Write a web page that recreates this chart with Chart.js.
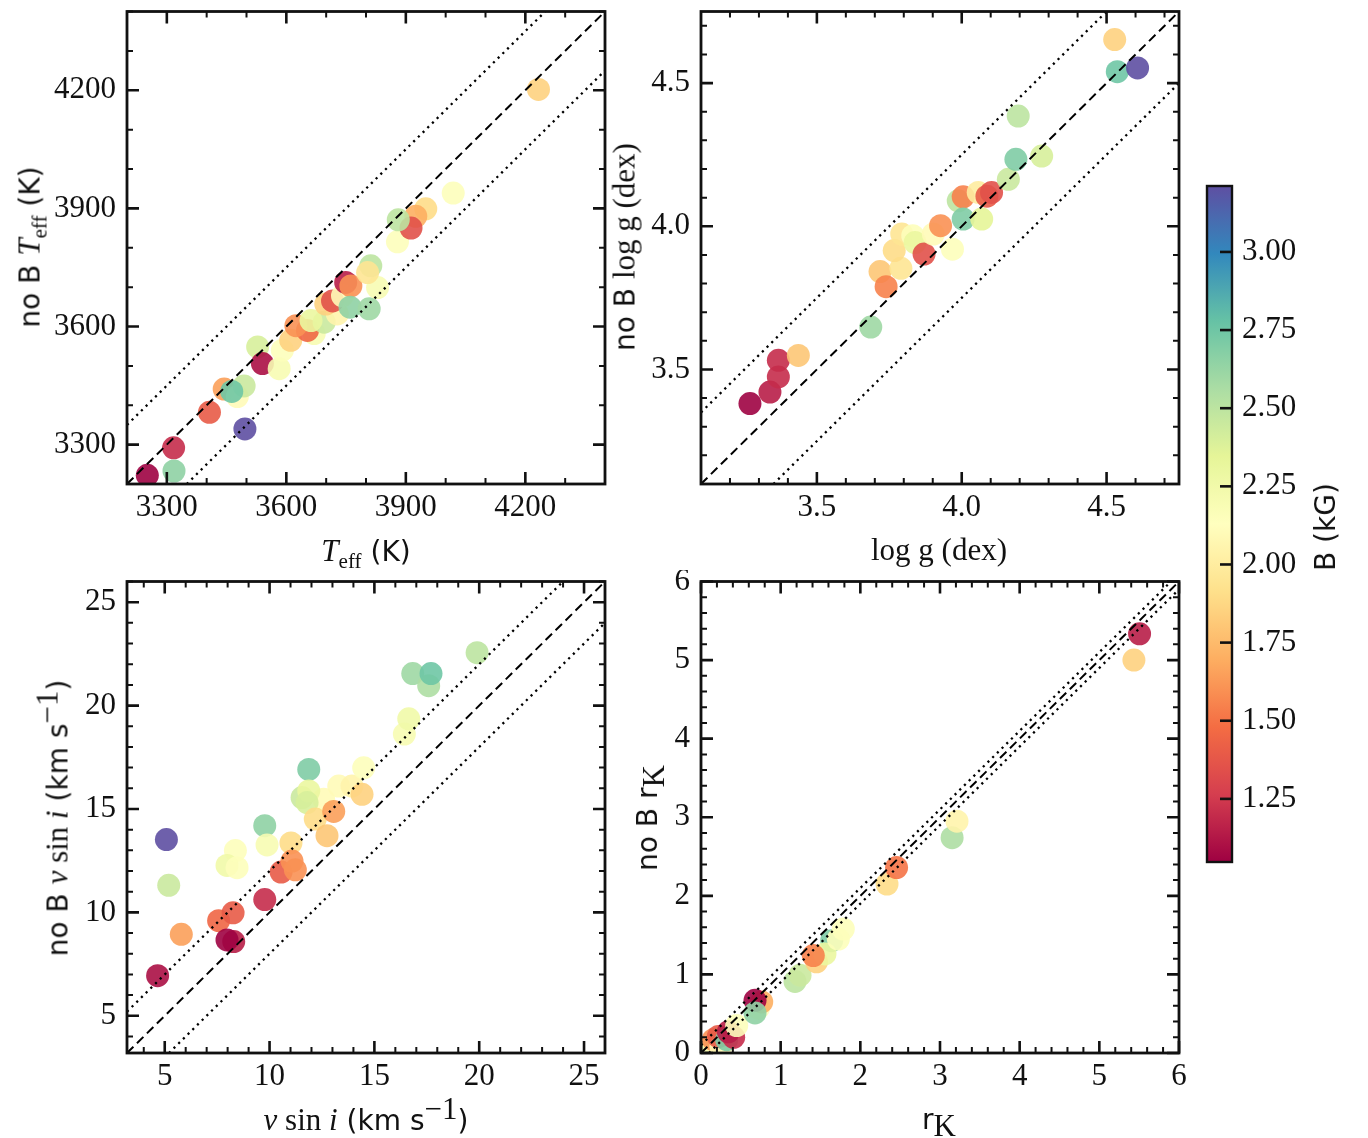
<!DOCTYPE html>
<html>
<head>
<meta charset="utf-8">
<script src="https://cdn.jsdelivr.net/npm/chart.js@4.4.0/dist/chart.umd.min.js"></script>
<style>
html, body { margin:0; padding:0; background:#fff; }
#page { position:relative; width:1368px; height:1138px; overflow:hidden; background:#fff; }
canvas { position:absolute; }
.lbl { position:absolute; white-space:nowrap; font-family:'DejaVu Sans', sans-serif; font-size:28px; color:#111; line-height:1; transform:translate(-50%,-50%); }
.rot { transform:translate(-50%,-50%) rotate(-90deg); }
.s { font-family:'Liberation Serif', serif; font-size:31px; }
sub, sup { font-size:0.68em; line-height:0; }
</style>
</head>
<body>
<div id="page">
  <canvas id="c1"></canvas>
  <canvas id="c2"></canvas>
  <canvas id="c3"></canvas>
  <canvas id="c4"></canvas>
  <canvas id="cb"></canvas>

  <div class="lbl rot" style="left:29px;top:247px">no B <span class="s"><i>T</i><sub>eff</sub></span> (K)</div>
  <div class="lbl" style="left:366px;top:550px"><span class="s"><i>T</i><sub>eff</sub></span> (K)</div>

  <div class="lbl rot" style="left:624px;top:247px">no B <span class="s">log g (dex)</span></div>
  <div class="lbl" style="left:939px;top:549px"><span class="s">log g (dex)</span></div>

  <div class="lbl rot" style="left:57px;top:818px">no B <span class="s"><i>v</i> sin <i>i</i></span> (km s<sup class="s">&minus;1</sup>)</div>
  <div class="lbl" style="left:366px;top:1119px"><span class="s"><i>v</i> sin <i>i</i></span> (km s<sup class="s">&minus;1</sup>)</div>

  <div class="lbl rot" style="left:648px;top:818px">no B r<sub class="s">K</sub></div>
  <div class="lbl" style="left:939px;top:1120px">r<sub class="s">K</sub></div>

  <div class="lbl rot" style="left:1326px;top:527px">B (kG)</div>
</div>

<script>
// ---- data ----
// panel 1: Teff (K)
const p1X = [3251,3317,3318,3407,3496,3444,3477,3494,3463,3528,3540,3582,3590,3611,3670,3653,3624,3695,3662,3728,3699,3716,3741,3749,3762,3760,3808,3829,3812,3804,3879,3950,3925,3913,3881,4019,4233];
const p1Y = [3222,3292,3233,3382,3340,3441,3422,3449,3435,3548,3506,3493,3540,3565,3582,3590,3602,3611,3615,3632,3657,3665,3678,3712,3703,3649,3645,3699,3754,3737,3815,3899,3880,3850,3871,3939,4202];
const p1B = [1.05,1.2,2.65,1.4,3.21,1.65,2.1,2.45,2.75,2.4,1.1,2.2,2.15,1.85,2.2,1.45,1.6,2.45,2.3,2.05,1.85,1.35,2.1,1.15,1.6,2.65,2.6,2.2,2.5,1.95,2.15,1.9,1.7,1.35,2.5,2.15,1.85];
const p1Ticks = [3300,3600,3900,4200];
const p1Lines = [[3200,3200,4400,4400],[3200,3350,4250,4400],[3350,3200,4400,4250]];

// panel 2: log g (dex)
const p2X = [3.269,3.338,3.367,3.367,3.436,3.686,3.718,3.739,3.79,3.767,3.793,3.831,3.839,3.87,3.902,3.927,3.968,3.988,4.005,4.005,4.057,4.069,4.087,4.103,4.161,4.187,4.276,4.195,4.528,4.537,4.607];
const p2Y = [3.381,3.421,3.474,3.532,3.549,3.648,3.842,3.789,3.853,3.915,3.973,3.967,3.943,3.903,3.973,4.002,3.92,4.089,4.103,4.025,4.118,4.025,4.105,4.118,4.164,4.234,4.245,4.385,4.652,4.54,4.553];
const p2B = [1.05,1.15,1.2,1.2,1.8,2.6,1.8,1.55,1.95,1.9,1.95,2.15,2.3,1.35,2.1,1.6,2.15,2.5,1.55,2.7,2.0,2.35,1.4,1.35,2.45,2.7,2.4,2.5,1.85,2.75,3.21];
const p2Ticks = [3.5,4.0,4.5];
const p2Lines = [[3.1,3.1,4.75,4.75],[3.1,3.35,4.5,4.75],[3.35,3.1,4.75,4.5]];

// panel 3: v sin i (km/s)
const p3X = [4.66,5.79,5.19,5.08,7.57,8.26,8.29,7.97,8.37,7.97,8.45,9.77,9.77,9.88,11.02,10.55,11.23,11.07,11.87,12.58,11.55,11.87,11.79,12.18,12.74,13.3,13.93,14.41,13.06,14.49,16.43,16.64,16.83,17.59,17.7,19.9];
const p3Y = [6.94,8.94,11.31,13.52,9.6,9.98,8.59,8.67,12.99,12.27,12.16,10.62,14.19,13.26,13.36,11.95,12.06,12.48,16.91,15.47,15.55,15.87,15.31,14.51,13.71,16.11,16.11,15.71,14.88,16.99,18.62,19.36,21.55,20.96,21.55,22.56];
const p3B = [1.1,1.65,2.45,3.21,1.45,1.4,1.15,1.05,2.15,2.25,2.15,1.2,2.65,2.2,1.9,1.4,1.6,1.6,2.7,2.1,2.45,2.3,2.4,1.9,1.8,2.1,2.05,1.85,1.65,2.15,2.2,2.25,2.6,2.55,2.75,2.5];
const p3Ticks = [5,10,15,20,25];
const p3Lines = [[3.2,3.2,26,26],[3.2,5.2,24,26],[5.2,3.2,26,24]];

// panel 4: r_K
const p4X = [0.06,0.113,0.155,0.25,0.218,0.322,0.41,0.343,0.448,0.72,0.762,0.678,0.678,1.18,1.243,1.45,1.64,1.556,1.41,1.786,1.724,2.335,2.455,3.152,3.213,5.434,5.505];
const p4Y = [0.05,0.08,0.17,0.08,0.21,0.17,0.2,0.27,0.35,0.57,0.65,0.67,0.51,0.91,0.99,1.16,1.43,1.26,1.24,1.578,1.45,2.15,2.36,2.74,2.95,5.0,5.334];
const p4B = [2.15,2.2,1.6,2.1,1.4,2.7,1.2,1.15,2.15,2.15,1.7,1.05,2.65,2.5,2.45,1.85,2.7,2.3,1.55,2.15,2.15,1.9,1.5,2.55,2.05,1.85,1.15];
const p4Ticks = [0,1,2,3,4,5,6];
const p4Lines = [[0,0,6,6],[0,0.1,5.9,6],[0.1,0,6,5.9]];

// colorbar B (kG)
const cbMin = 1.048, cbMax = 3.211;
const cbTicks = [1.25,1.5,1.75,2.0,2.25,2.5,2.75,3.0];

// ---- Spectral colormap ----
const SPECTRAL = [[158,1,66],[213,62,79],[244,109,67],[253,174,97],[254,224,139],[255,255,191],[230,245,152],[171,221,164],[102,194,165],[50,136,189],[94,79,162]];
function spectralAt(t) {
  t = Math.max(0, Math.min(1, t)) * 10;
  const i = Math.min(9, Math.floor(t)), f = t - i;
  const a = SPECTRAL[i], b = SPECTRAL[i + 1];
  return [0,1,2].map(k => Math.round(a[k] + (b[k] - a[k]) * f));
}
function colorFor(v, alpha) {
  const c = spectralAt((v - cbMin) / (cbMax - cbMin));
  return `rgba(${c[0]},${c[1]},${c[2]},${alpha})`;
}

const TICK_FONT = { family: 'Liberation Serif', size: 31 };
const INK = '#111';

// stop chart.js from reserving room for half tick labels at the ends
function noEdgePad(s) {
  s.paddingTop = 0; s.paddingBottom = 0; s.paddingLeft = 0; s.paddingRight = 0;
}

// frame + inward major/minor ticks on all four sides
const frameTicks = {
  id: 'frameTicks',
  afterDatasetsDraw(chart, args, o) {
    const { ctx, chartArea: a } = chart;
    const xs = chart.scales.x, ys = chart.scales.y;
    ctx.save();
    ctx.strokeStyle = INK;
    const minorVals = (s, step, majors) => {
      const out = [];
      const k0 = Math.ceil(s.min / step - 1e-6), k1 = Math.floor(s.max / step + 1e-6);
      for (let k = k0; k <= k1; k++) {
        const v = k * step;
        if (!majors.some(m => Math.abs(m - v) < step * 0.01)) out.push(v);
      }
      return out;
    };
    const drawX = (vals, len, w) => {
      ctx.lineWidth = w;
      vals.forEach(v => {
        const px = xs.getPixelForValue(v);
        ctx.beginPath();
        ctx.moveTo(px, a.bottom); ctx.lineTo(px, a.bottom - len);
        ctx.moveTo(px, a.top); ctx.lineTo(px, a.top + len);
        ctx.stroke();
      });
    };
    const drawY = (vals, len, w) => {
      ctx.lineWidth = w;
      vals.forEach(v => {
        const py = ys.getPixelForValue(v);
        ctx.beginPath();
        ctx.moveTo(a.left, py); ctx.lineTo(a.left + len, py);
        ctx.moveTo(a.right, py); ctx.lineTo(a.right - len, py);
        ctx.stroke();
      });
    };
    drawX(o.majors, 12, 2.6);
    drawY(o.majors, 12, 2.6);
    drawX(minorVals(xs, o.minor, o.majors), 6, 2);
    drawY(minorVals(ys, o.minor, o.majors), 6, 2);
    ctx.lineWidth = 2.8;
    ctx.strokeRect(a.left, a.top, a.right - a.left, a.bottom - a.top);
    ctx.restore();
  }
};

function makePanel(p) {
  const cv = document.getElementById(p.id);
  cv.width = p.w; cv.height = p.h;
  cv.style.left = p.left + 'px'; cv.style.top = p.top + 'px';
  const [aL, aT, aR, aB] = p.area;
  const yW = aL - p.left, xH = p.top + p.h - aB;

  const lineSets = p.lines.map((l, i) => ({
    data: [{ x: l[0], y: l[1] }, { x: l[2], y: l[3] }],
    showLine: true, pointRadius: 0, pointHoverRadius: 0,
    borderColor: '#000', borderWidth: i ? 2.3 : 2,
    borderDash: i ? [2.2, 4.4] : [9, 5],
    order: 0
  }));
  const pts = p.x.map((v, i) => ({ x: v, y: p.y[i] }));
  const axis = (ticks, pad, extra) => Object.assign({
    type: 'linear', min: p.min, max: p.max,
    afterBuildTicks: s => { s.ticks = ticks.map(v => ({ value: v })); },
    grid: { display: false, drawTicks: false },
    border: { display: false },
    ticks: { font: TICK_FONT, color: INK, autoSkip: false, maxRotation: 0, padding: pad,
             callback: v => Number(v).toFixed(p.dec) }
  }, extra);

  new Chart(cv, {
    type: 'scatter',
    data: { datasets: [...lineSets, {
      data: pts,
      backgroundColor: p.b.map(v => colorFor(v, 0.9)),
      pointRadius: 11.5, pointHoverRadius: 11.5, borderWidth: 0, order: 1
    }] },
    options: {
      responsive: false, animation: false,
      layout: { padding: { left: 0, top: aT - p.top, right: p.left + p.w - aR, bottom: 0 } },
      plugins: { legend: { display: false }, tooltip: { enabled: false },
                 frameTicks: { majors: p.ticks, minor: p.minor } },
      scales: {
        x: axis(p.ticks, 5, { afterFit: s => { s.height = xH; noEdgePad(s); } }),
        y: axis(p.ticks, 11, { afterFit: s => { s.width = yW; noEdgePad(s); } })
      }
    },
    plugins: [frameTicks]
  });
}

makePanel({ id: 'c1', left: 0, top: 0, w: 640, h: 570, area: [127, 10, 605, 484],
  x: p1X, y: p1Y, b: p1B, min: 3200, max: 4400, ticks: p1Ticks, minor: 100, dec: 0, lines: p1Lines });
makePanel({ id: 'c2', left: 640, top: 0, w: 600, h: 570, area: [701, 10, 1179, 484],
  x: p2X, y: p2Y, b: p2B, min: 3.1, max: 4.75, ticks: p2Ticks, minor: 0.1, dec: 1, lines: p2Lines });
makePanel({ id: 'c3', left: 0, top: 570, w: 640, h: 568, area: [127, 579, 605, 1053],
  x: p3X, y: p3Y, b: p3B, min: 3.2, max: 26, ticks: p3Ticks, minor: 1, dec: 0, lines: p3Lines });
makePanel({ id: 'c4', left: 640, top: 570, w: 600, h: 568, area: [701, 579, 1179, 1053],
  x: p4X, y: p4Y, b: p4B, min: 0, max: 6, ticks: p4Ticks, minor: 0.2, dec: 0, lines: p4Lines });

// ---- colorbar ----
const colorbarFill = {
  id: 'colorbarFill',
  beforeDatasetsDraw(chart) {
    const { ctx, chartArea: a } = chart;
    const ys = chart.scales.y;
    const g = ctx.createLinearGradient(0, ys.getPixelForValue(cbMin), 0, ys.getPixelForValue(cbMax));
    for (let i = 0; i <= 40; i++) {
      const c = spectralAt(i / 40);
      g.addColorStop(i / 40, `rgb(${c[0]},${c[1]},${c[2]})`);
    }
    ctx.save();
    ctx.fillStyle = g;
    ctx.fillRect(a.left, a.top, a.right - a.left, a.bottom - a.top);
    ctx.strokeStyle = INK;
    ctx.lineWidth = 2.6;
    cbTicks.forEach(v => {
      const py = ys.getPixelForValue(v);
      ctx.beginPath(); ctx.moveTo(a.right, py); ctx.lineTo(a.right - 12, py); ctx.stroke();
    });
    ctx.lineWidth = 2.4;
    ctx.strokeRect(a.left, a.top, a.right - a.left, a.bottom - a.top);
    ctx.restore();
  }
};
(function () {
  const cv = document.getElementById('cb');
  cv.width = 178; cv.height = 710;
  cv.style.left = '1190px'; cv.style.top = '170px';
  new Chart(cv, {
    type: 'scatter',
    data: { datasets: [] },
    options: {
      responsive: false, animation: false,
      layout: { padding: { left: 17, top: 16, bottom: 18, right: 0 } },
      plugins: { legend: { display: false }, tooltip: { enabled: false } },
      scales: {
        x: { display: false, min: 0, max: 1 },
        y: {
          position: 'right', min: cbMin, max: cbMax,
          afterBuildTicks: s => { s.ticks = cbTicks.map(v => ({ value: v })); },
          afterFit: s => { s.width = 136; noEdgePad(s); },
          grid: { display: false, drawTicks: false },
          border: { display: false },
          ticks: { font: TICK_FONT, color: INK, padding: 10, callback: v => Number(v).toFixed(2) }
        }
      }
    },
    plugins: [colorbarFill]
  });
})();
</script>
</body>
</html>
